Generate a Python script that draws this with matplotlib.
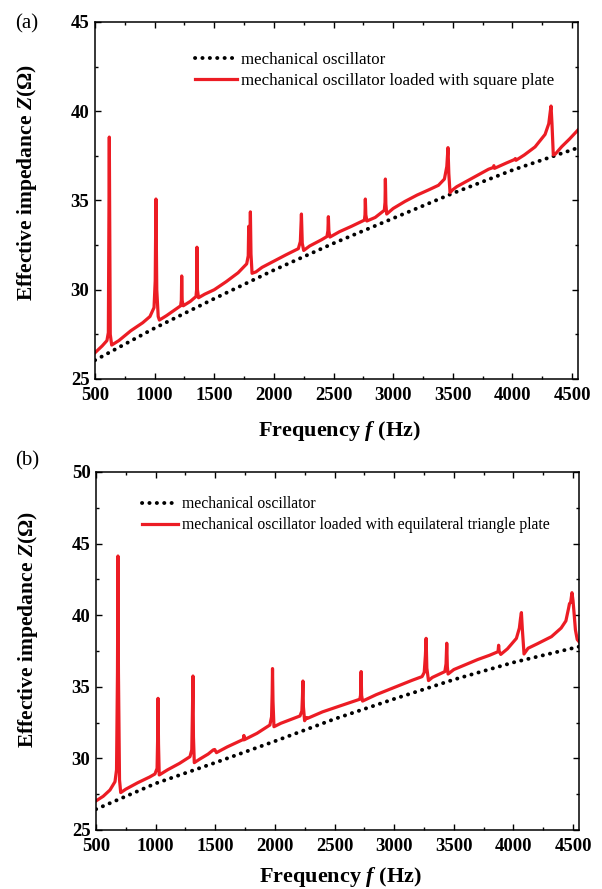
import numpy as np
import matplotlib.pyplot as plt
from matplotlib.ticker import MultipleLocator

plt.rcParams['font.family'] = ['Liberation Serif', 'DejaVu Serif']
plt.rcParams['mathtext.fontset'] = 'custom'
plt.rcParams['mathtext.rm'] = 'Liberation Serif:bold'
plt.rcParams['mathtext.it'] = 'Liberation Serif:italic:bold'

# ---- panel (a): square plate ----
f_osc_a = [500, 1000, 1500, 2000, 2500, 3000, 3500, 4000, 4550]
z_osc_a = [26.05, 27.85, 29.5, 31.1, 32.6, 34.0, 35.4, 36.7, 37.95]

f_plate_a = [500, 560, 600, 612, 620, 628, 640, 700, 800, 900, 961, 995, 1005, 1011,
             1018, 1030, 1040, 1100, 1218, 1224, 1227, 1231, 1240, 1300, 1347, 1352,
             1355, 1359, 1368, 1420, 1500, 1600, 1700, 1772, 1785, 1789, 1793, 1799,
             1803, 1808, 1817, 1850, 1900, 2000, 2100, 2205, 2222, 2231, 2238, 2250,
             2300, 2400, 2445, 2453, 2457, 2461, 2470, 2550, 2650, 2759, 2764, 2767,
             2771, 2780, 2850, 2926, 2932, 2935, 2939, 2946, 3000, 3100, 3200, 3300,
             3380, 3430, 3450, 3460, 3467, 3477, 3500, 3533, 3650, 3800, 3840, 3845,
             3850, 3950, 4020, 4025, 4030, 4100, 4190, 4274, 4305, 4318, 4324, 4332,
             4343, 4360, 4413, 4480, 4550]
z_plate_a = [26.47, 26.85, 27.15, 27.6, 38.55, 27.5, 26.9, 27.15, 27.7, 28.15, 28.5,
             29.0, 30.5, 35.08, 30.0, 28.5, 28.3, 28.55, 29.1, 29.4, 30.77, 29.4, 29.1,
             29.35, 29.62, 30.0, 32.38, 30.0, 29.55, 29.75, 30.0, 30.45, 30.95, 31.45,
             31.9, 33.55, 32.0, 32.5, 34.36, 32.0, 30.92, 31.0, 31.25, 31.6, 31.95, 32.3,
             32.7, 34.24, 32.6, 32.2, 32.45, 32.8, 32.98, 33.3, 34.09, 33.3, 32.95, 33.25,
             33.55, 33.9, 34.2, 35.08, 34.2, 33.85, 34.05, 34.45, 34.9, 36.2, 34.8, 34.24,
             34.55, 34.95, 35.3, 35.6, 35.85, 36.2, 36.9, 37.96, 36.5, 35.44, 35.6, 35.77,
             36.2, 36.75, 36.85, 36.95, 36.8, 37.1, 37.3, 37.35, 37.25, 37.55, 38.0, 38.7,
             39.3, 40.0, 40.29, 39.3, 37.55, 37.6, 38.01, 38.45, 38.95]

# ---- panel (b): equilateral triangle plate ----
f_osc_b = [500, 1000, 1500, 2000, 2500, 3000, 3500, 4000, 4550]
z_osc_b = [26.45, 28.25, 29.7, 31.2, 32.75, 34.15, 35.5, 36.7, 37.8]

f_plate_b = [500, 560, 617, 659, 672, 680, 684, 688, 697, 707, 750, 850, 950, 994,
             1012, 1017, 1020, 1024, 1030, 1100, 1200, 1288, 1303, 1309, 1313, 1317,
             1324, 1370, 1440, 1483, 1495, 1510, 1600, 1729, 1737, 1740, 1743, 1850,
             1958, 1972, 1977, 1980, 1984, 1992, 2050, 2210, 2226, 2231, 2235, 2239,
             2249, 2265, 2275, 2400, 2545, 2712, 2718, 2723, 2727, 2735, 2850, 3000,
             3150, 3234, 3252, 3262, 3268, 3274, 3288, 3320, 3425, 3435, 3441, 3446,
             3452, 3500, 3600, 3700, 3800, 3871, 3876, 3880, 3894, 3950, 4025, 4050,
             4060, 4067, 4075, 4089, 4123, 4200, 4319, 4400, 4440, 4463, 4470, 4480,
             4491, 4500, 4510, 4520, 4535, 4550]
z_plate_b = [27.03, 27.35, 27.79, 28.37, 29.2, 36.0, 44.13, 36.0, 28.5, 27.61, 27.85,
             28.3, 28.7, 28.91, 29.3, 31.5, 34.19, 31.0, 28.84, 29.2, 29.65, 30.12, 30.6,
             33.5, 35.75, 31.5, 29.7, 29.95, 30.3, 30.59, 30.62, 30.4, 30.8, 31.3, 31.3,
             31.6, 31.3, 31.75, 32.33, 32.9, 34.5, 36.27, 34.0, 32.21, 32.45, 32.96, 33.3,
             34.3, 35.4, 33.6, 32.63, 32.85, 32.8, 33.25, 33.66, 34.13, 34.4, 36.06, 34.4,
             34.0, 34.45, 34.95, 35.45, 35.71, 36.0, 37.2, 38.38, 36.3, 35.43, 35.65,
             36.06, 36.6, 38.04, 36.4, 35.89, 36.2, 36.55, 36.9, 37.2, 37.45, 37.9, 37.5,
             37.26, 37.65, 38.38, 39.1, 39.8, 40.18, 39.0, 37.29, 37.69, 38.0, 38.5, 39.1,
             39.6, 40.5, 40.8, 40.9, 41.57, 41.0, 40.0, 38.97, 38.3, 38.15]

panels = [
    ('(a)', f_osc_a, z_osc_a, f_plate_a, z_plate_a, (25, 45),
     'mechanical oscillator loaded with square plate'),
    ('(b)', f_osc_b, z_osc_b, f_plate_b, z_plate_b, (25, 50),
     'mechanical oscillator loaded with equilateral triangle plate'),
]
axes_rects = [[0.1578, 0.5737, 0.8023, 0.4016],
              [0.1595, 0.0664, 0.8023, 0.4027]]
legend_pos = [(0.207, 0.915), (0.095, 0.932)]
legend_size = [12.2, 11.3]
handle_len = [2.48, 2.3]
ylabel_y = [0.55, 0.559]
xlabel_y = [-0.112, -0.099]
tag_y = [0.973, 0.482]

red = '#ec1c24'

fig = plt.figure(figsize=(6.02, 8.89), dpi=100)
for i, (tag, fo, zo, fp, zp, ylim, lab) in enumerate(panels):
    ax = fig.add_axes(axes_rects[i])
    ax.plot(fo, zo, color='black', lw=2.8, linestyle=(0, (0.05, 1.85)),
            dash_capstyle='round', label='mechanical oscillator')
    ax.plot(fp, zp, color=red, lw=2.3, label=lab)
    ax.set_xlim(500, 4550)
    ax.set_ylim(*ylim)
    ax.xaxis.set_major_locator(MultipleLocator(500))
    ax.xaxis.set_minor_locator(MultipleLocator(250))
    ax.yaxis.set_major_locator(MultipleLocator(5))
    ax.yaxis.set_minor_locator(MultipleLocator(2.5))
    ax.tick_params(which='both', direction='in', top=True, right=True, width=1.0)
    ax.tick_params(which='major', length=4, labelsize=13.5)
    ax.tick_params(which='minor', length=2.5)
    ax.tick_params(axis='x', which='major', pad=6)
    ax.tick_params(axis='y', which='major', pad=4)
    for t in ax.get_xticklabels() + ax.get_yticklabels():
        t.set_fontweight('bold')
    for s in ax.spines.values():
        s.set_linewidth(1.1)
    ax.set_xlabel('Frequency $f$ (Hz)', fontsize=16, fontweight='bold')
    ax.set_ylabel('Effective impedance $Z$(\u03a9)', fontsize=15.5, fontweight='bold')
    ax.xaxis.set_label_coords(0.507, xlabel_y[i])
    ax.yaxis.set_label_coords(-0.115, ylabel_y[i])
    leg = ax.legend(loc='upper left', bbox_to_anchor=legend_pos[i], frameon=False,
                    fontsize=legend_size[i], handlelength=handle_len[i],
                    handletextpad=0.25, labelspacing=0.3, borderpad=0,
                    borderaxespad=0)
    fig.text(0.025, tag_y[i], tag, fontsize=15, va='center', ha='left')

fig.savefig('out.png', dpi=100)
